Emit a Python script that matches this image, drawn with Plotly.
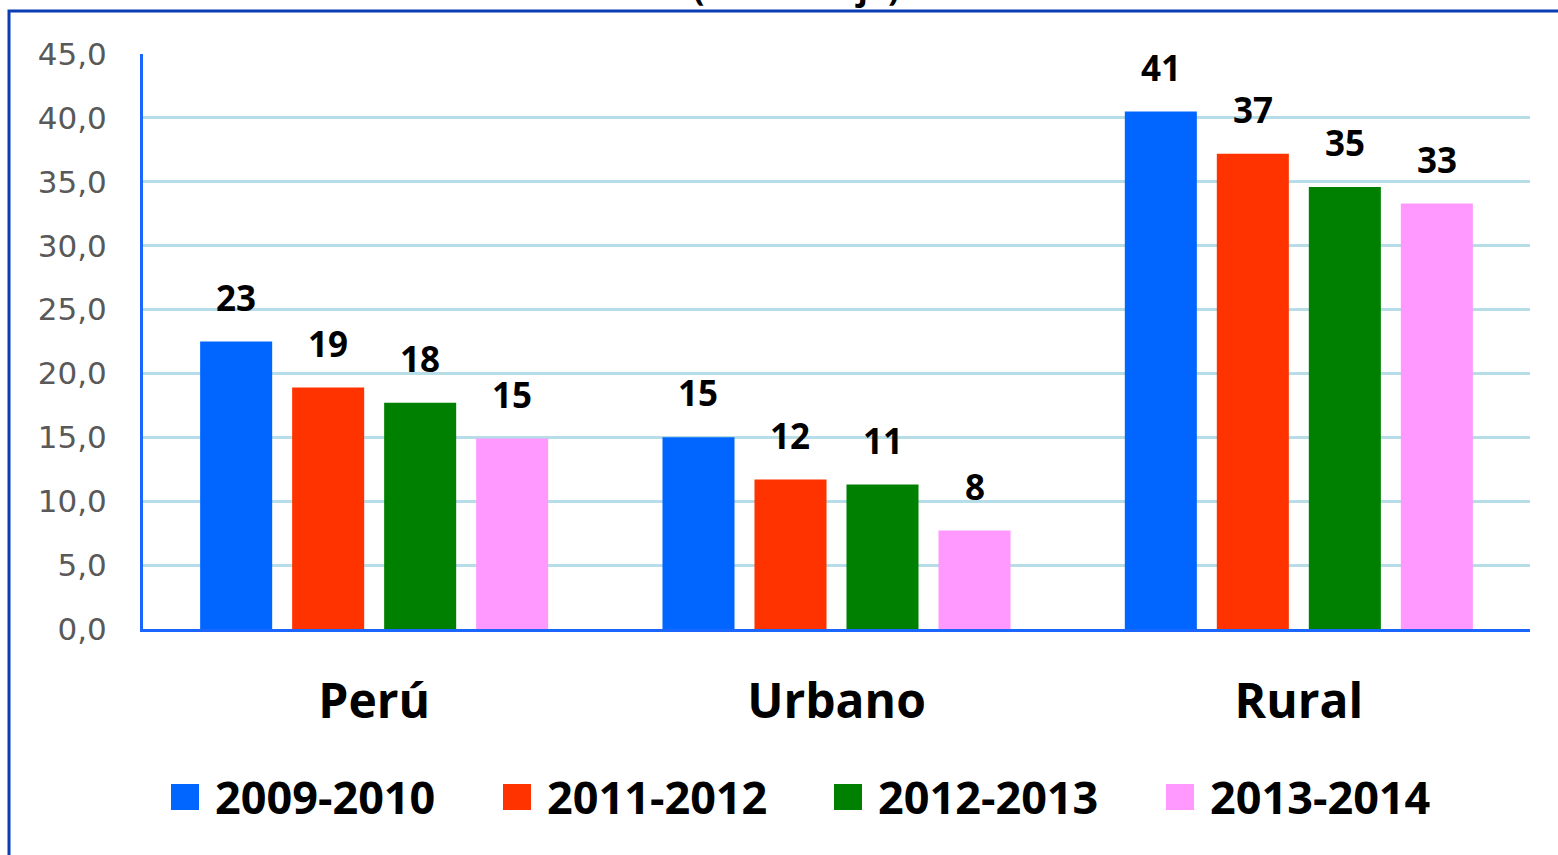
import plotly.graph_objects as go

categories = ["Perú", "Urbano", "Rural"]
series_names = ["2009-2010", "2011-2012", "2012-2013", "2013-2014"]
values_2009_2010 = [22.5, 15.0, 40.5]
values_2011_2012 = [18.9, 11.7, 37.2]
values_2012_2013 = [17.7, 11.3, 34.6]
values_2013_2014 = [14.9, 7.7, 33.3]
series_values = [values_2009_2010, values_2011_2012, values_2012_2013, values_2013_2014]
colors = ["#0066ff", "#ff3300", "#008000", "#ff99ff"]
y_ticks = [0, 5, 10, 15, 20, 25, 30, 35, 40, 45]
title_text = "(Porcentaje)"

W, H = 1558, 855
ML, MR, MT, MB = 143, 28, 54, 226
PW = W - ML - MR
PH = H - MT - MB
BARGAP = 0.204
BARGROUPGAP = 0.217
slot_px = PW / len(categories) * (1 - BARGAP) / len(series_names)


def px_x(px):
    return (px - ML) / PW


def px_y(py):
    return (H - MB - py) / PH


fig = go.Figure()
for name, vals, col in zip(series_names, series_values, colors):
    fig.add_trace(go.Bar(
        x=categories, y=vals, name=name,
        marker=dict(color=col, line=dict(width=0)),
        showlegend=False,
    ))

annotations = []
# data labels
for i, vals in enumerate(series_values):
    for c, v in zip(categories, vals):
        annotations.append(dict(
            x=c, y=v, xref="x", yref="y",
            text=f"{v:.0f}" if v % 1 != 0.5 else f"{int(v) + 1}",
            showarrow=False, xanchor="center", yanchor="bottom",
            xshift=(i - (len(series_names) - 1) / 2) * slot_px, yshift=19,
            font=dict(family="Open Sans", size=35, color="#000000", weight="bold"),
        ))

# manual legend
legend_sq_x = [171, 503, 834, 1166]
shapes = []
for i, (name, col) in enumerate(zip(series_names, colors)):
    x0 = legend_sq_x[i]
    shapes.append(dict(type="rect", xref="paper", yref="paper",
                       x0=px_x(x0), x1=px_x(x0 + 28), y0=px_y(810), y1=px_y(784),
                       fillcolor=col, line=dict(width=0)))
    annotations.append(dict(
        x=px_x(x0 + 42), y=px_y(796), xref="paper", yref="paper",
        text=name, showarrow=False, xanchor="left", yanchor="middle",
        font=dict(family="Open Sans", size=45, color="#000000", weight="bold"),
    ))

# title, partly cut off at the top (as in the source image)
annotations.append(dict(
    x=px_x(796), y=px_y(12), xref="paper", yref="paper",
    text=title_text, showarrow=False, xanchor="center", yanchor="bottom",
    font=dict(family="Open Sans", size=34, color="#000000", weight="bold"),
))

# outer frame
shapes.append(dict(type="rect", xref="paper", yref="paper", layer="above",
                   x0=px_x(9), x1=px_x(W + 40), y0=px_y(H + 40), y1=px_y(11),
                   line=dict(color="#0a3cb4", width=3), fillcolor="rgba(0,0,0,0)"))

fig.update_layout(
    width=W, height=H,
    margin=dict(l=ML, r=MR, t=MT, b=MB, pad=0),
    paper_bgcolor="white", plot_bgcolor="white",
    barmode="group", bargap=BARGAP, bargroupgap=BARGROUPGAP,
    separators=",.",
    annotations=annotations, shapes=shapes,
    showlegend=False,
)
fig.update_yaxes(
    range=[0, 45], tickvals=y_ticks, tickformat=".1f",
    showgrid=True, gridcolor="#b7dde8", gridwidth=2.5,
    showline=True, linecolor="#1a66ff", linewidth=3,
    ticks="", ticklabelstandoff=27,
    tickfont=dict(family="DejaVu Sans", size=31, color="#595959"),
    zeroline=False,
)
fig.update_xaxes(
    showline=True, linecolor="#1a66ff", linewidth=3,
    ticks="", ticklabelstandoff=28,
    tickfont=dict(family="Open Sans", size=48, color="#000000", weight="bold"),
    showgrid=False,
)

fig.write_html(
    "out.html",
    config={"displayModeBar": False},
    post_script="document.body.style.margin='0';document.body.style.overflow='hidden';",
)
